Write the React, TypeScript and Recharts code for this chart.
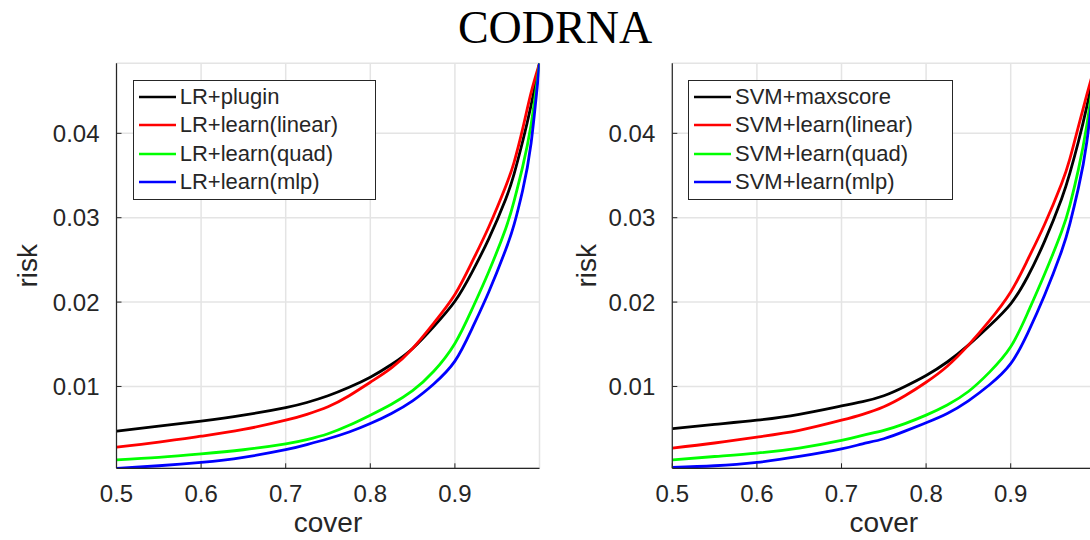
import React from "react";
import {
  LineChart,
  Line,
  XAxis,
  YAxis,
  CartesianGrid,
  Legend,
} from "recharts";

// cover values shared by every curve
const COVER = [0.5, 0.55, 0.6, 0.65, 0.7, 0.725, 0.75, 0.775, 0.8, 0.825, 0.85, 0.875, 0.9, 0.92, 0.94, 0.96, 0.97, 0.98, 0.99, 1.0];

// left panel (LR)
const LR_PLUGIN = [0.0047, 0.0053, 0.0059, 0.0066, 0.0075, 0.0081, 0.0089, 0.0099, 0.0111, 0.0126, 0.0145, 0.0171, 0.0201, 0.0235, 0.0275, 0.0322, 0.0352, 0.039, 0.0433, 0.0483];
const LR_LINEAR = [0.0028, 0.0034, 0.0041, 0.0049, 0.006, 0.0067, 0.0076, 0.0089, 0.0105, 0.0122, 0.0145, 0.0175, 0.0209, 0.0247, 0.0289, 0.0337, 0.0366, 0.0405, 0.0448, 0.0483];
const LR_QUAD = [0.0013, 0.0016, 0.002, 0.0025, 0.0032, 0.0037, 0.0044, 0.0054, 0.0066, 0.0079, 0.0095, 0.0118, 0.0151, 0.0191, 0.0236, 0.0287, 0.032, 0.036, 0.041, 0.0483];
const LR_MLP = [0.0003, 0.0006, 0.001, 0.0016, 0.0025, 0.0031, 0.0038, 0.0046, 0.0056, 0.0068, 0.0083, 0.0103, 0.013, 0.0168, 0.0212, 0.0262, 0.0292, 0.0332, 0.0388, 0.0483];

// right panel (SVM)
const SVM_MAXSCORE = [0.005, 0.0055, 0.006, 0.0067, 0.0077, 0.0082, 0.0089, 0.01, 0.0113, 0.0129, 0.0149, 0.0172, 0.0198, 0.023, 0.0272, 0.0322, 0.0353, 0.039, 0.0432, 0.048];
const SVM_LINEAR = [0.0027, 0.0033, 0.004, 0.0048, 0.006, 0.0067, 0.0076, 0.0089, 0.0105, 0.0124, 0.0149, 0.0178, 0.0212, 0.025, 0.0292, 0.034, 0.037, 0.0408, 0.0446, 0.0482];
const SVM_QUAD = [0.0013, 0.0017, 0.0021, 0.0027, 0.0036, 0.0042, 0.0048, 0.0056, 0.0066, 0.0078, 0.0094, 0.0117, 0.0147, 0.0187, 0.0233, 0.0283, 0.0315, 0.0357, 0.041, 0.048];
const SVM_MLP = [0.0004, 0.0006, 0.001, 0.0017, 0.0026, 0.0032, 0.0038, 0.0047, 0.0057, 0.0068, 0.0083, 0.0102, 0.0127, 0.0163, 0.0208, 0.026, 0.0293, 0.0335, 0.039, 0.048];

const X_TICKS = [0.5, 0.6, 0.7, 0.8, 0.9];
const Y_TICKS = [0.01, 0.02, 0.03, 0.04];
const X_DOMAIN = [0.5, 1];
const Y_DOMAIN = [0.0003, 0.0483];

const LR_NAMES = ["LR+plugin", "LR+learn(linear)", "LR+learn(quad)", "LR+learn(mlp)"];
const SVM_NAMES = ["SVM+maxscore", "SVM+learn(linear)", "SVM+learn(quad)", "SVM+learn(mlp)"];
const COLORS = ["#000000", "#ff0000", "#00ff00", "#0000ff"];

const AXIS_COLOR = "#262626";
const FONT = "'Liberation Sans', Arial, Helvetica, sans-serif";
const TICK_LEN = 5;
const X_GAP = 16;
const Y_GAP = 17;

const buildRows = (series: number[][]) =>
  COVER.map((c, i) => {
    const row: Record<string, number> = { cover: c };
    series.forEach((s, k) => {
      row[`s${k}`] = s[i];
    });
    return row;
  });

// tick label plus a short inward tick mark (MATLAB style)
const XTick = (props: any) => {
  const { x, y, payload } = props;
  const axisY = y - X_GAP;
  return (
    <g>
      <line x1={x} x2={x} y1={axisY} y2={axisY - TICK_LEN} stroke={AXIS_COLOR} />
      <text x={x} y={y} dy="0.72em" textAnchor="middle" fill={AXIS_COLOR} fontSize={24} fontFamily={FONT}>
        {Number(payload.value).toFixed(1)}
      </text>
    </g>
  );
};

const YTick = (props: any) => {
  const { x, y, payload } = props;
  const axisX = x + Y_GAP;
  return (
    <g>
      <line x1={axisX} x2={axisX + TICK_LEN} y1={y} y2={y} stroke={AXIS_COLOR} />
      <text x={x} y={y} dy="0.36em" textAnchor="end" fill={AXIS_COLOR} fontSize={24} fontFamily={FONT}>
        {Number(payload.value).toFixed(2)}
      </text>
    </g>
  );
};

const makeLegend = (names: string[], boxWidth: number) => () => (
  <div
    style={{
      width: boxWidth,
      height: 120,
      boxSizing: "border-box",
      border: `1.5px solid ${AXIS_COLOR}`,
      background: "#fff",
      paddingTop: 2,
    }}
  >
    {names.map((n, i) => (
      <div key={n} style={{ display: "flex", alignItems: "center", height: 28.3 }}>
        <svg width={44} height={10} style={{ marginLeft: 5 }}>
          <line x1={0} x2={37} y1={5} y2={5} stroke={COLORS[i]} strokeWidth={2.5} />
        </svg>
        <span style={{ fontFamily: FONT, fontSize: 22, color: AXIS_COLOR, marginLeft: -3, whiteSpace: "nowrap" }}>
          {n}
        </span>
      </div>
    ))}
  </div>
);

interface PanelProps {
  series: number[][];
  names: string[];
  plotLeft: number;
  labelX: number;
  legendLeft: number;
  legendWidth: number;
}

const PLOT_TOP = 63.3;
const PLOT_BOTTOM = 468.3;
const CHART_W = 560;
const CHART_H = 540;
const PLOT_W = 423;

const Panel: React.FC<PanelProps> = ({ series, names, plotLeft, labelX, legendLeft, legendWidth }) => {
  const data = buildRows(series);
  const yAxisW = 100;
  const xAxisH = 70;
  return (
    <LineChart
      width={CHART_W}
      height={CHART_H}
      data={data}
      margin={{
        top: PLOT_TOP,
        left: plotLeft - yAxisW,
        right: CHART_W - plotLeft - PLOT_W,
        bottom: CHART_H - PLOT_BOTTOM - xAxisH,
      }}
    >
      <CartesianGrid stroke="#e4e4e4" strokeWidth={1.5} />
      <XAxis
        dataKey="cover"
        type="number"
        domain={X_DOMAIN}
        ticks={X_TICKS}
        allowDataOverflow
        height={xAxisH}
        tickLine={false}
        tickSize={0}
        tickMargin={X_GAP}
        tick={<XTick />}
        stroke={AXIS_COLOR}
        strokeWidth={1.2}
        label={{ value: "cover", position: "insideBottom", offset: 6, fontSize: 28, fill: AXIS_COLOR, fontFamily: FONT }}
      />
      <YAxis
        type="number"
        domain={Y_DOMAIN}
        ticks={Y_TICKS}
        allowDataOverflow
        width={yAxisW}
        tickLine={false}
        tickSize={0}
        tickMargin={Y_GAP}
        tick={<YTick />}
        stroke={AXIS_COLOR}
        strokeWidth={1.2}
        label={{
          value: "risk",
          angle: -90,
          position: "insideLeft",
          offset: labelX - (plotLeft - yAxisW),
          fontSize: 28,
          fill: AXIS_COLOR,
          fontFamily: FONT,
          style: { textAnchor: "middle" },
        }}
      />
      <XAxis
        xAxisId="top"
        orientation="top"
        mirror
        type="number"
        domain={X_DOMAIN}
        ticks={X_TICKS}
        allowDataOverflow
        height={0}
        tick={false}
        tickSize={TICK_LEN}
        stroke={AXIS_COLOR}
        strokeWidth={1.2}
      />
      <YAxis
        yAxisId="right"
        orientation="right"
        mirror
        type="number"
        domain={Y_DOMAIN}
        ticks={Y_TICKS}
        allowDataOverflow
        width={0}
        tick={false}
        tickSize={TICK_LEN}
        stroke={AXIS_COLOR}
        strokeWidth={1.2}
      />
      <Legend
        layout="vertical"
        align="center"
        verticalAlign="middle"
        wrapperStyle={{ left: legendLeft, top: 80, width: legendWidth, height: 120 }}
        content={makeLegend(names, legendWidth)}
      />
      {names.map((n, i) => (
        <Line
          key={n}
          dataKey={`s${i}`}
          name={n}
          type="natural"
          stroke={COLORS[i]}
          strokeWidth={2.8}
          dot={false}
          isAnimationActive={false}
        />
      ))}
    </LineChart>
  );
};

export default function App() {
  return (
    <div
      style={{
        position: "absolute",
        left: 0,
        top: 0,
        width: 1090,
        height: 540,
        overflow: "hidden",
        background: "#fff",
        fontFamily: FONT,
      }}
    >
      <div
        style={{
          position: "absolute",
          left: 0,
          top: 5,
          width: 1110,
          textAlign: "center",
          fontFamily: "'Liberation Serif', 'Times New Roman', serif",
          fontSize: 46,
          lineHeight: "46px",
          color: "#000",
        }}
      >
        CODRNA
      </div>
      <div style={{ position: "absolute", left: 0, top: 0 }}>
        <Panel
          series={[LR_PLUGIN, LR_LINEAR, LR_QUAD, LR_MLP]}
          names={LR_NAMES}
          plotLeft={116.5}
          labelX={27}
          legendLeft={132.7}
          legendWidth={243}
        />
      </div>
      <div style={{ position: "absolute", left: 560, top: 0 }}>
        <Panel
          series={[SVM_MAXSCORE, SVM_LINEAR, SVM_QUAD, SVM_MLP]}
          names={SVM_NAMES}
          plotLeft={112.3}
          labelX={26}
          legendLeft={128}
          legendWidth={265}
        />
      </div>
    </div>
  );
}
